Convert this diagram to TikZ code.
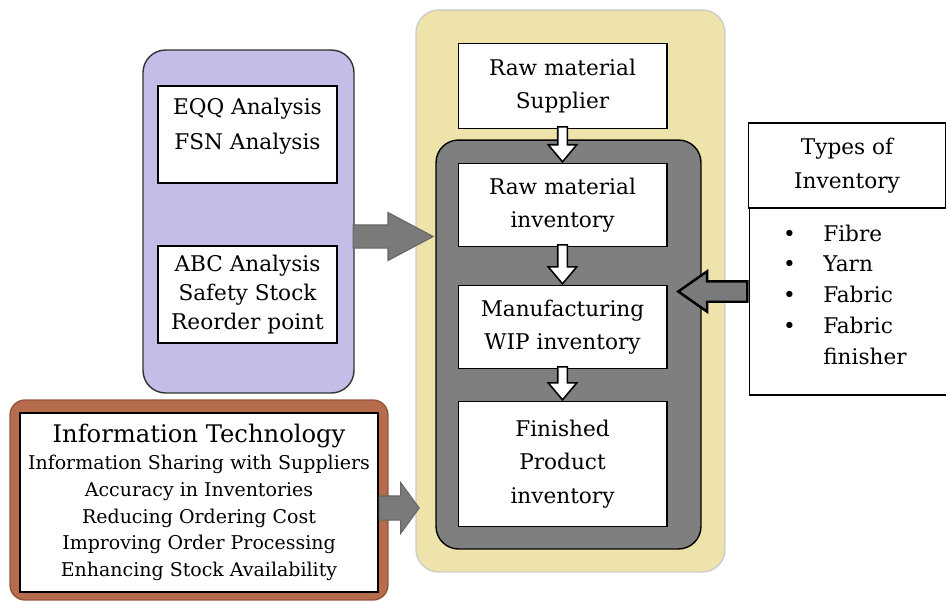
\documentclass[tikz,border=0pt]{standalone}
\usepackage{fontspec}
\setmainfont{DejaVu Serif}
\usetikzlibrary{positioning,shapes.arrows,calc}

\definecolor{panelyellow}{HTML}{EEE3AA}
\definecolor{lavender}{HTML}{C5BCE8}
\definecolor{rust}{HTML}{B66B4C}
\definecolor{panelgray}{HTML}{7F7F7F}
\definecolor{arrowgray}{HTML}{7A7A7A}

\begin{document}
\begin{tikzpicture}[x=0.02cm, y=-0.02cm]

		% Define basic styles
		\tikzset{
			panel/.style={
				rectangle, rounded corners=0.45cm, line width=0.8pt
			},
			stage/.style={
				rectangle, draw=black, line width=0.6pt, fill=white,
				minimum width=4.18cm, align=center,
				font=\fontsize{12.3}{19}\selectfont
			},
			tool/.style={
				stage, minimum width=3.58cm, minimum height=1.94cm
			},
			downarrow/.style={
				single arrow, draw=black, fill=white, line width=0.9pt,
				shape border rotate=270, inner sep=0.08cm,
				single arrow head extend=0.19cm, single arrow tip angle=80
			},
			grayarrow/.style={
				single arrow, draw=black!60, fill=arrowgray, line width=0.6pt
			}
		}

		\useasboundingbox (0,0) rectangle (946,600);

		% Panels
		\node[panel, draw=black!20, fill=panelyellow, minimum width=6.18cm, minimum height=11.24cm] (flow) at (570.5,291) {};
		\node[panel, draw=black, fill=panelgray, minimum width=5.3cm, minimum height=8.18cm] (plant) at (568.5,344.5) {};
		\node[panel, draw=black!80, fill=lavender, minimum width=4.22cm, minimum height=6.86cm] (techniques) at (248.5,221.5) {};
		\node[panel, rounded corners=0.3cm, draw=rust!80!black, fill=rust, minimum width=7.56cm, minimum height=4cm] (itframe) at (199,500) {};

		% Nodes
		\node[stage, minimum height=1.7cm] (supplier) at (562.5,86) {Raw material\\Supplier};
		\node[stage, minimum height=1.66cm, below=0.68cm of supplier] (rawinv) {Raw material\\inventory};
		\node[stage, minimum height=1.66cm, below=0.76cm of rawinv] (wip) {Manufacturing\\WIP inventory};
		\node[stage, minimum height=2.5cm, below=0.64cm of wip] (finished) {Finished\\Product\\inventory};

		\node[tool, font=\fontsize{12.3}{19.8}\selectfont] (eqq) at (247.5,134.5) {EQQ Analysis\\FSN Analysis\\[-8pt]\mbox{}};
		\node[tool, font=\fontsize{12.3}{16.4}\selectfont] (abc) at (247.5,294.5) {ABC Analysis\\Safety Stock\\Reorder point};

		\node[stage, line width=0.8pt, minimum width=7.16cm, minimum height=3.58cm, font=\fontsize{10.8}{15.3}\selectfont] (itbox) at (199,502.5)
			{{\fontsize{13.8}{16}\selectfont Information Technology}\\
			Information Sharing with Suppliers\\
			Accuracy in Inventories\\
			Reducing Ordering Cost\\
			Improving Order Processing\\
			Enhancing Stock Availability};

		\node[stage, minimum width=3.96cm, minimum height=1.7cm] (types) at (847,165.5) {Types of\\Inventory};
		\node[stage, minimum height=3.74cm, text width=2.82cm, inner xsep=0.32cm, align=left, font=\fontsize{12.3}{17.5}\selectfont] (kinds) at (853.5,301.5)
			{\begin{tabular}{@{}l@{\hspace{0.55cm}}l@{}}
				\textbullet & Fibre\\
				\textbullet & Yarn\\
				\textbullet & Fabric\\
				\textbullet & Fabric\\
				& finisher\\[0.2cm]
			\end{tabular}};

		% Arrows
		\node[downarrow, minimum height=0.7cm, anchor=tip] (feed) at (rawinv.north) {};
		\node[downarrow, minimum height=0.78cm, anchor=tip] (process) at (wip.north) {};
		\node[downarrow, minimum height=0.66cm, anchor=tip] (complete) at (finished.north) {};

		\node[grayarrow, minimum height=1.6cm, inner sep=0.22cm, single arrow head extend=0.25cm, single arrow tip angle=56, anchor=tail] (control) at ($(techniques.east)+(-2,15)$) {};
		\node[grayarrow, minimum height=0.8cm, inner sep=0.23cm, single arrow head extend=0.27cm, single arrow tip angle=108, anchor=tail] (support) at ($(itframe.east)+(-10,8)$) {};
		\node[grayarrow, draw=black, line width=1.4pt, shape border rotate=180, minimum height=1.38cm, inner sep=0.18cm, single arrow head extend=0.2cm, single arrow tip angle=70, anchor=tail] (classify) at ($(kinds.west)+(0,-10)$) {};

	\end{tikzpicture}
\end{document}
